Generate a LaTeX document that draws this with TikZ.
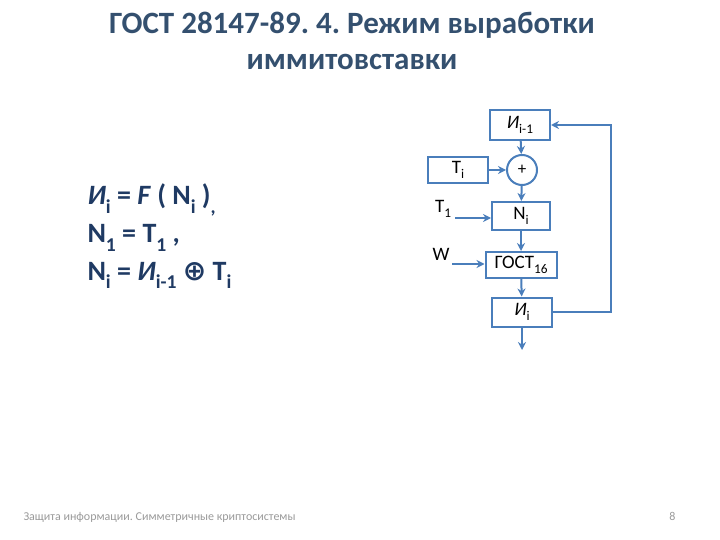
\documentclass[tikz,border=0pt]{standalone}
\usepackage{fontspec}
\setmainfont{Carlito}
\newfontfamily\symfont{DejaVu Sans}
\usetikzlibrary{positioning,arrows.meta}
\definecolor{titlecol}{HTML}{34506F}
\definecolor{formcol}{HTML}{1F3A63}
\definecolor{linecol}{HTML}{4A7EBB}
\definecolor{footcol}{HTML}{9A9A9A}
\frenchspacing
% nizhnii indeks
\newcommand{\nizh}[1]{\raisebox{-0.3em}{\fontsize{0.7em}{0.7em}\selectfont #1}}

\tikzset{
  blok/.style={draw=linecol, line width=2pt, inner sep=0pt,
    minimum width=60pt, minimum height=28pt, font=\fontsize{19}{19}\selectfont},
  strelka/.style={draw=linecol, line width=2pt, -{Stealth[length=8pt,width=8pt]}},
  formula/.style={anchor=base west, text=formcol, font=\bfseries\fontsize{28}{28}\selectfont},
}

\begin{document}
\begin{tikzpicture}[x=1pt,y=-1pt]
    \useasboundingbox (0,0) rectangle (720,540);

    % Zagolovok
    \node[text=titlecol, font=\bfseries\fontsize{31}{36}\selectfont, align=center] (title) at (352,41)
        {ГОСТ 28147-89. 4. Режим выработки\\иммитовставки};

    % Formuly sleva
    \node[formula] (f1) at (84,205) {\textit{И}\nizh{i} = \textit{F} ( N\nizh{i} )\nizh{,}};
    \node[formula] (f2) at (84,243) {N\nizh{1} = T\nizh{1} ,};
    \node[formula] (f3) at (84,280) {N\nizh{i} = \textit{И}\nizh{i-1} {\symfont ⊕} T\nizh{i}};

    % Bloki skhemy
    \node[blok, minimum height=30pt] (Iprev) at (520,125) {\textit{И}\nizh{i-1}};
    \node[draw=linecol, line width=2pt, circle, minimum size=30pt, inner sep=0pt,
        font=\fontsize{17}{17}\selectfont] (sum) at (522,170) {+};
    \node[blok, minimum height=26pt] (Ti) at (458,170) {T\nizh{i}};
    \node[blok, minimum width=58pt] (Ni) at (521,216) {N\nizh{i}};
    \node[blok, minimum width=71pt, minimum height=26pt] (gost) at (521,265) {ГОСТ\nizh{16}};
    \node[blok, minimum height=29pt] (Ii) at (522,312) {\textit{И}\nizh{i}};

    % Vkhody T1 i W
    \node[font=\fontsize{19}{19}\selectfont] (lblT1) at (443,209) {T\nizh{1}};
    \node[font=\fontsize{19}{19}\selectfont] (lblW) at (441,254) {W};
    \coordinate (t1in) at (455,218);
    \coordinate (win) at (452,264);
    \coordinate (out) at (522,350);
    \coordinate (obr1) at (611,312);
    \coordinate (obr2) at (611,125);

    % Strelki
    \draw[strelka] (Iprev) -- (sum);
    \draw[strelka] (Ti) -- (sum);
    \draw[strelka] (sum) -- (Ni);
    \draw[strelka] (t1in) -- (t1in -| Ni.west);
    \draw[strelka] (Ni) -- (gost);
    \draw[strelka] (win) -- (win -| gost.west);
    \draw[strelka] (gost) -- (Ii);
    \draw[strelka] (Ii) -- (out);
    % obratnaya svyaz
    \draw[strelka] (Ii.east) -- (obr1) -- (obr2) -- (Iprev.east);

    % Podval
    \node[anchor=base west, text=footcol, font=\fontsize{12}{12}\selectfont] (foot) at (20,520)
        {Защита информации. Симметричные криптосистемы};
    \node[anchor=base east, text=footcol, font=\fontsize{12}{12}\selectfont] (num) at (679,520) {8};

\end{tikzpicture}
\end{document}
